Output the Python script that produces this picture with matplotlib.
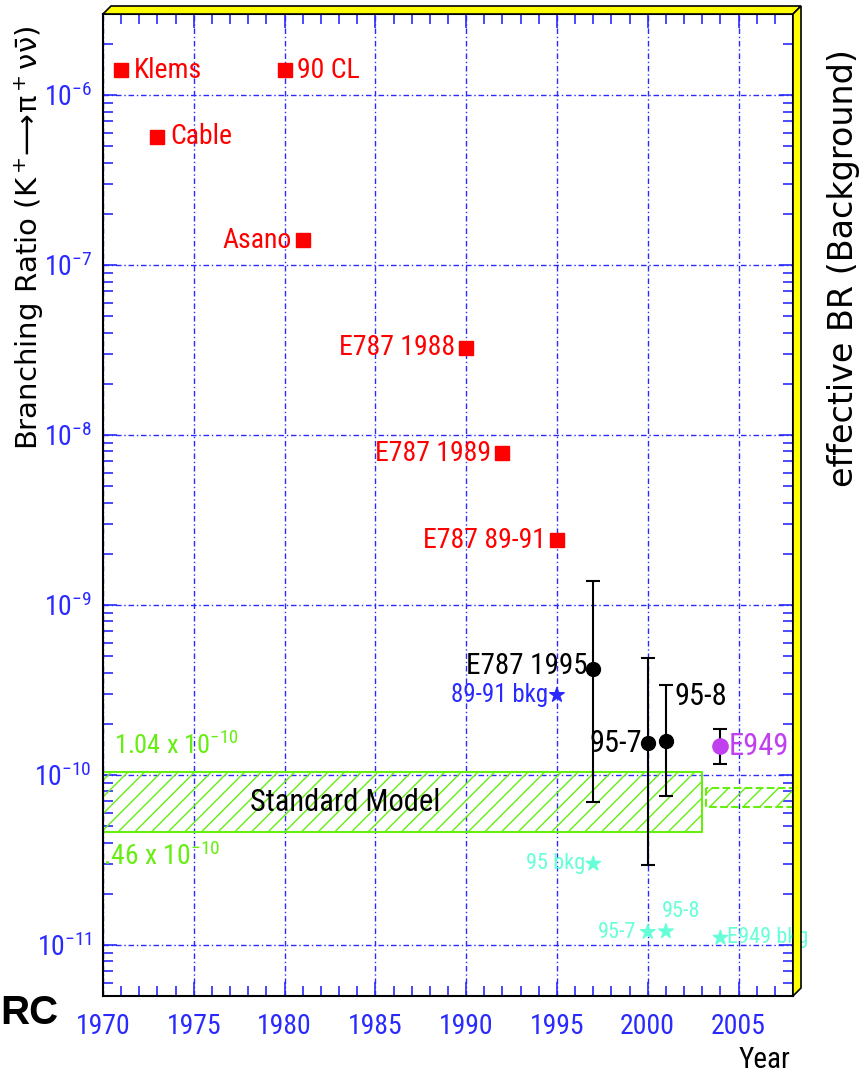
import matplotlib
matplotlib.use("Agg")
import matplotlib.pyplot as plt
from matplotlib import font_manager
from matplotlib.patches import Polygon
from matplotlib.ticker import LogLocator, MultipleLocator, NullFormatter

# pick a narrow face if there is one, the old PAW plot uses a condensed font
installed = {(f.name, f.stretch) for f in font_manager.fontManager.ttflist}
names = {n for n, s in installed}
narrow, stretch = 'DejaVu Sans', 'normal'
for cand in ['Liberation Sans Narrow', 'DejaVu Sans Condensed', 'Roboto Condensed']:
    if cand in names:
        narrow = cand
        break
else:
    if ('DejaVu Sans', 'condensed') in installed:
        stretch = 'condensed'
plt.rcParams['font.family'] = [narrow, 'DejaVu Sans']
plt.rcParams['font.stretch'] = stretch
plt.rcParams['mathtext.default'] = 'regular'
plt.rcParams['hatch.linewidth'] = 1.0
k = 1.0 if narrow != 'DejaVu Sans' or stretch == 'condensed' else 0.85

# ---- data ----
red_years = [1971, 1973, 1981, 1990, 1992, 1995]
red_vals = [1.4e-6, 5.7e-7, 1.4e-7, 3.25e-8, 7.8e-9, 2.4e-9]
red_labels = ['Klems', 'Cable', 'Asano', 'E787 1988', 'E787 1989', 'E787 89-91']
red_label_side = ['right', 'right', 'left', 'left', 'left', 'left']
cl_year, cl_val = 1980, 1.4e-6

e787_years = [1997, 2000, 2001]
e787_vals = [4.2e-10, 1.54e-10, 1.58e-10]
e787_hi = [1.38e-9, 4.9e-10, 3.4e-10]
e787_lo = [6.9e-11, 2.95e-11, 7.5e-11]
e787_labels = ['E787 1995', '95-7', '95-8']

e949_year, e949_val, e949_hi, e949_lo = 2004, 1.47e-10, 1.87e-10, 1.16e-10

bkg_years = [1995, 1997, 2000, 2001, 2004]
bkg_vals = [2.95e-10, 3.0e-11, 1.19e-11, 1.2e-11, 1.1e-11]
bkg_labels = ['89-91 bkg', '95 bkg', '95-7', '95-8', 'E949 bkg']

sm_years = [1970, 2003]
sm_lo, sm_hi = 0.46e-10, 1.04e-10
sm2_years = [2003.2, 2008]
sm2_lo, sm2_hi = 6.5e-11, 8.4e-11

blue = '#2a2aff'
red = '#ff0000'
green = '#66ee11'
cyan = '#66ffd8'
magenta = '#c040f0'

fig = plt.figure(figsize=(8.67, 10.8), dpi=100)
ax = fig.add_axes([103/867, 1-996/1080, 690/867, 982/1080])
ax.set_yscale('log')
ax.set_xlim(1970, 2008)
ax.set_ylim(5e-12, 3e-6)

# grid
ax.grid(True, which='major', color=blue, linestyle=(0, (4, 2, 1, 2)), linewidth=1.0)

# standard model bands
ax.fill_between(sm_years, sm_lo, sm_hi, facecolor='none', edgecolor=green,
                hatch='//', linewidth=1.5, zorder=2)
ax.fill_between(sm2_years, sm2_lo, sm2_hi, facecolor='none', edgecolor=green,
                hatch='//', linewidth=1.5, linestyle='--', zorder=2)
ax.text(1970.6, 1.5e-10, '1.04 x 10$^{-10}$', color=green, fontsize=19*k, va='center')
ax.text(1970.0, 3.3e-11, '.46 x 10$^{-10}$', color=green, fontsize=20*k, va='center')
ax.text(1978.1, 6.9e-11, 'Standard Model', color='black', fontsize=22*k, va='center')

# old experiments (90% CL limits)
ax.plot(red_years, red_vals, 's', color=red, markersize=10, zorder=4)
ax.plot([cl_year], [cl_val], 's', color=red, markersize=10, zorder=4)
for yr, v, lab, side in zip(red_years, red_vals, red_labels, red_label_side):
    dx = 9 if side == 'right' else -8
    ax.annotate(lab, (yr, v), xytext=(dx, 0), textcoords='offset points',
                ha='left' if side == 'right' else 'right', va='center',
                color=red, fontsize=20*k)
ax.annotate('90 CL', (cl_year, cl_val), xytext=(9, 0), textcoords='offset points',
            ha='left', va='center', color=red, fontsize=20*k)

# E787 measurements
yerr = [[v - lo for v, lo in zip(e787_vals, e787_lo)],
        [hi - v for v, hi in zip(e787_vals, e787_hi)]]
ax.errorbar(e787_years, e787_vals, yerr=yerr, fmt='o', color='black',
            markersize=10, capsize=5, elinewidth=1.5, capthick=1.5, zorder=5)
ax.annotate(e787_labels[0], (e787_years[0], e787_vals[0]), xytext=(-4, 2),
            textcoords='offset points', ha='right', va='center', fontsize=21*k)
ax.annotate(e787_labels[1], (e787_years[1], e787_vals[1]), xytext=(-4, 0),
            textcoords='offset points', ha='right', va='center', fontsize=22*k)
ax.annotate(e787_labels[2], (e787_years[2], e787_vals[2]), xytext=(6, 32),
            textcoords='offset points', ha='left', va='center', fontsize=22*k)

# E949
ax.errorbar([e949_year], [e949_val], yerr=[[e949_val - e949_lo], [e949_hi - e949_val]],
            fmt='o', color=magenta, ecolor='black', markersize=11, capsize=5,
            elinewidth=1.5, capthick=1.5, zorder=5)
ax.annotate('E949', (e949_year, e949_val), xytext=(6, 0), textcoords='offset points',
            ha='left', va='center', color=magenta, fontsize=22*k)

# backgrounds
bkg_colors = [blue, cyan, cyan, cyan, cyan]
bkg_sizes = [18, 16, 16, 16, 16]
ax.scatter(bkg_years, bkg_vals, marker='*', s=120, c=bkg_colors, zorder=5, clip_on=False)
offsets = [(-6, 0, 'right'), (-6, 0, 'right'), (-8, 0, 'right'), (-3, 14, 'left'), (5, 0, 'left')]
for yr, v, lab, col, fsz, (dx, dy, ha) in zip(bkg_years, bkg_vals, bkg_labels, bkg_colors,
                                              bkg_sizes, offsets):
    ax.annotate(lab, (yr, v), xytext=(dx, dy), textcoords='offset points',
                ha=ha, va='center', color=col, fontsize=fsz*k, annotation_clip=False)

# ticks
ax.xaxis.set_major_locator(MultipleLocator(5))
ax.xaxis.set_minor_locator(MultipleLocator(1))
ax.yaxis.set_major_locator(LogLocator(base=10, numticks=20))
ax.yaxis.set_minor_locator(LogLocator(base=10, subs=range(2, 10), numticks=20))
ax.yaxis.set_minor_formatter(NullFormatter())
ax.tick_params(which='both', direction='in', color=blue, top=True, right=True,
               labelcolor=blue)
ax.tick_params(axis='x', labelsize=20*k, pad=12)
ax.tick_params(axis='y', labelsize=20*k, pad=8)
ax.tick_params(which='major', length=10, width=1.2)
ax.tick_params(which='minor', length=7, width=1.2)
for sp in ax.spines.values():
    sp.set_linewidth(1.5)

# yellow 3d frame
dx, dy = 8/690, 8/982
top = Polygon([(0, 1), (dx, 1 + dy), (1 + dx, 1 + dy), (1, 1)], closed=True,
              transform=ax.transAxes, facecolor='#ffff00', edgecolor='black',
              linewidth=1.2, clip_on=False, zorder=6)
side = Polygon([(1, 1), (1 + dx, 1 + dy), (1 + dx, dy), (1, 0)], closed=True,
               transform=ax.transAxes, facecolor='#ffff00', edgecolor='black',
               linewidth=1.2, clip_on=False, zorder=6)
ax.add_patch(top)
ax.add_patch(side)

# axis titles
fig.text(29/867, 1-238/1080,
         r'Branching Ratio (K$^+\!\!\longrightarrow\!\pi^+\nu\bar{\nu}$)',
         rotation=90, ha='center', va='center', fontsize=21,
         family=['DejaVu Sans'], stretch='normal')
fig.text(843/867, 1-268/1080, 'effective BR (Background)', rotation=90,
         ha='center', va='center', fontsize=24, family=['DejaVu Sans'], stretch='normal')
fig.text(764/867, 1-1060/1080, 'Year', ha='center', va='center', fontsize=21*k)
fig.text(0.0, 1-1013/1080, 'RC', ha='left', va='center', fontsize=29,
         fontweight='bold', family=['Liberation Sans', 'DejaVu Sans'], stretch='normal')

fig.savefig('out.png', dpi=100)
